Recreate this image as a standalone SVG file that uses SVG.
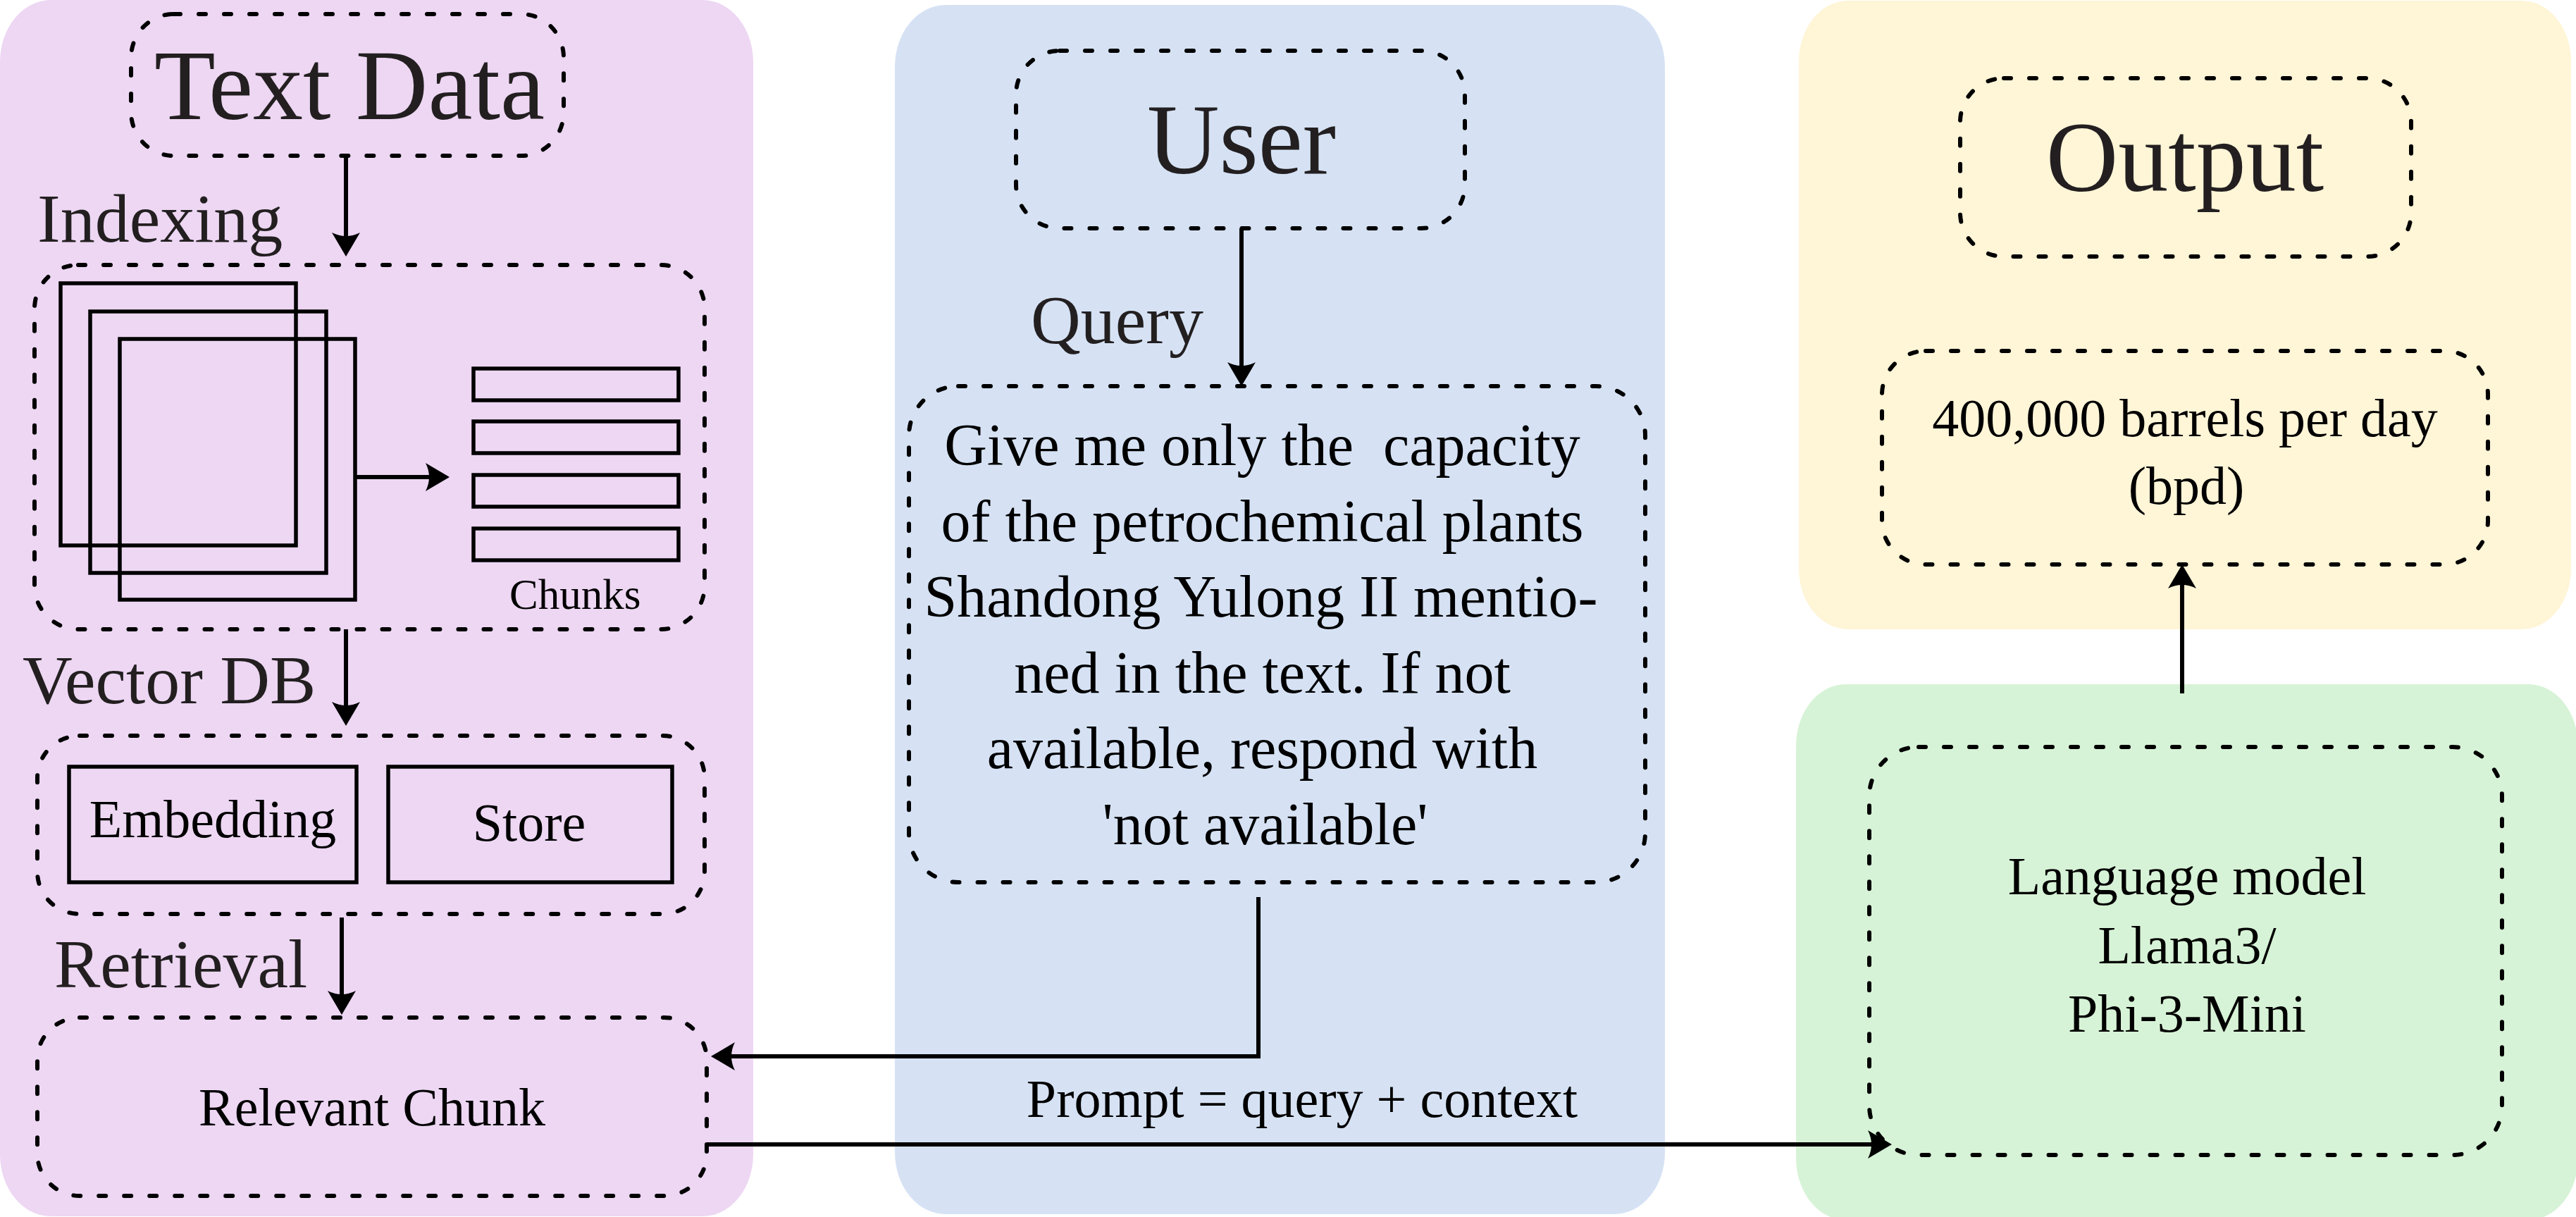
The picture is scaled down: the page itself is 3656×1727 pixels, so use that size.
<svg xmlns="http://www.w3.org/2000/svg" width="3656" height="1727" viewBox="0 0 3656 1727">
<defs>
<style>
.dbox{fill:none;stroke:#000;stroke-width:6;stroke-dasharray:10 26;stroke-linecap:round}
.sbox{fill:none;stroke:#000;stroke-width:5.5}
.t{font-family:"Liberation Serif","Times New Roman",serif;fill:#000}
.h{font-size:142px;fill:#231f20}
.lbl{font-size:98px;fill:#231f20}
.b{font-size:76px}
.q{font-size:84px}
.c{text-anchor:middle}
.conn path{fill:none;stroke:#000;stroke-width:6}
</style>
<marker id="arr" markerUnits="userSpaceOnUse" viewBox="-22 -22 40 44" markerWidth="40" markerHeight="44" refX="0" refY="0" orient="auto">
<path d="M15,0 L-19,-20 Q-9,0 -19,20 Z" fill="#000"/>
</marker>
</defs>
<rect width="3656" height="1727" fill="#fff"/>
<g id="panels">
<rect id="panel-retrieval" x="0" y="0" width="1069" height="1726" rx="72" ry="88" fill="#EDD7F3"/>
<rect id="panel-user" x="1270" y="7" width="1093" height="1716" rx="72" ry="88" fill="#D6E2F4"/>
<rect id="panel-output" x="2553" y="1" width="1096" height="892" rx="70" ry="86" fill="#FFF5D7"/>
<rect id="panel-model" x="2549" y="971" width="1110" height="760" rx="70" ry="88" fill="#D7F3D7"/>
</g>
<g id="text-data">
<rect class="dbox" x="186" y="20" width="614" height="201" rx="60" ry="62"/>
<text class="t h c" x="496" y="169">Text Data</text>
</g>
<text id="label-indexing" class="t lbl" x="53" y="343">Indexing</text>
<g id="indexing">
<rect class="dbox" x="49" y="376" width="951" height="517" rx="62" ry="62"/>
<rect class="sbox" x="86" y="402" width="334" height="372"/>
<rect class="sbox" x="128" y="442" width="335" height="371"/>
<rect class="sbox" x="170" y="481" width="334" height="370"/>
<rect class="sbox" x="672" y="523" width="291" height="45"/>
<rect class="sbox" x="672" y="598" width="291" height="45"/>
<rect class="sbox" x="672" y="674" width="291" height="45"/>
<rect class="sbox" x="672" y="750" width="291" height="45"/>
<text class="t" x="723" y="864" font-size="61">Chunks</text>
</g>
<text id="label-vectordb" class="t lbl" x="32" y="998">Vector DB</text>
<g id="vector-db">
<rect class="dbox" x="53" y="1044" width="947" height="253" rx="60" ry="60"/>
<rect class="sbox" x="98" y="1088" width="408" height="164"/>
<rect class="sbox" x="551" y="1088" width="403" height="164"/>
<text class="t b c" x="302" y="1188">Embedding</text>
<text class="t b c" x="751" y="1193">Store</text>
</g>
<text id="label-retrieval" class="t lbl" x="77" y="1401">Retrieval</text>
<g id="relevant-chunk">
<rect class="dbox" x="53" y="1444" width="950" height="253" rx="60" ry="60"/>
<text class="t b c" x="528" y="1597">Relevant Chunk</text>
</g>
<g id="user">
<rect class="dbox" x="1442" y="72" width="637" height="252" rx="62" ry="62"/>
<text class="t h c" x="1762" y="246">User</text>
</g>
<text id="label-query" class="t lbl" x="1463" y="487">Query</text>
<g id="query">
<rect class="dbox" x="1290" y="548" width="1045" height="704" rx="70" ry="70"/>
<text class="t q c" xml:space="preserve" style="white-space:pre">
<tspan x="1802" y="660">Give me only the  capacity</tspan>
<tspan x="1802" y="768">of the petrochemical plants</tspan>
<tspan x="1800" y="875">Shandong Yulong II mentio-</tspan>
<tspan x="1802" y="983">ned in the text. If not</tspan>
<tspan x="1802" y="1090">available, respond with</tspan>
<tspan x="1806" y="1198">'not available'</tspan>
</text>
</g>
<text id="label-prompt" class="t b c" x="1848" y="1585">Prompt = query + context</text>
<g id="output">
<rect class="dbox" x="2782" y="111" width="640" height="253" rx="62" ry="62"/>
<text class="t h c" x="3101" y="271">Output</text>
</g>
<g id="answer">
<rect class="dbox" x="2671" y="498" width="860" height="303" rx="62" ry="62"/>
<text class="t b c" x="3101" y="619">400,000 barrels per day</text>
<text class="t b c" x="3103" y="715">(bpd)</text>
</g>
<g id="language-model">
<rect class="dbox" x="2653" y="1060" width="898" height="579" rx="70" ry="70"/>
<text class="t b c" x="3104" y="1269">Language model</text>
<text class="t b c" x="3104" y="1367">Llama3/</text>
<text class="t b c" x="3104" y="1464">Phi-3-Mini</text>
</g>
<g id="connectors" class="conn">
<path d="M491,221 V349" marker-end="url(#arr)"/>
<path d="M504,677 H623" marker-end="url(#arr)"/>
<path d="M491,893 V1015" marker-end="url(#arr)"/>
<path d="M485,1302 V1425" marker-end="url(#arr)"/>
<path d="M1762,324 V533" marker-end="url(#arr)"/>
<path d="M1786,1273 V1499 H1024" marker-end="url(#arr)"/>
<path d="M1003,1624 H2670" marker-end="url(#arr)"/>
<path d="M3097,984 V816" marker-end="url(#arr)"/>
</g>
</svg>
